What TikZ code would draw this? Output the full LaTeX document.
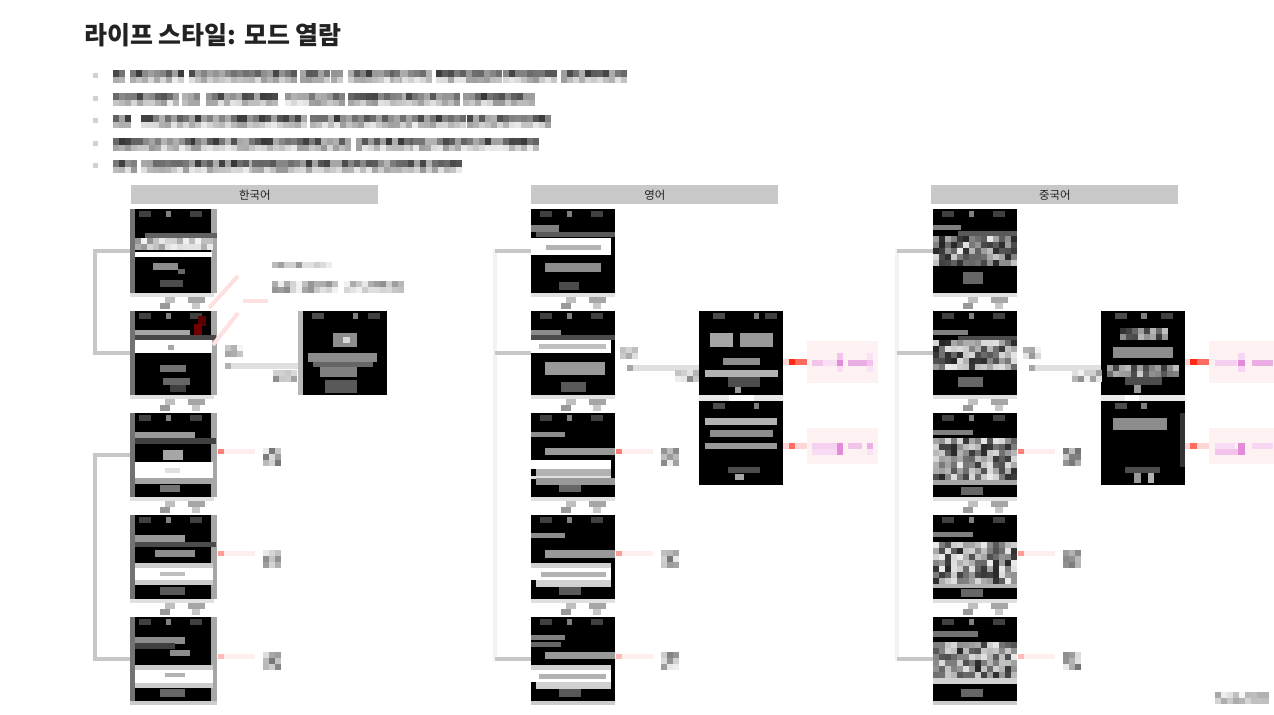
\documentclass[tikz,border=0pt]{standalone}
\usepackage{fontspec}
\newfontfamily\krfont{Noto Sans CJK KR}
\usetikzlibrary{calc}

\definecolor{tabgray}{HTML}{C8C8C8}
\definecolor{ink}{HTML}{222222}
\definecolor{pinkbg}{HTML}{FDF1F2}
\definecolor{mag}{HTML}{E38BD8}
\definecolor{lmag}{HTML}{F2C4EC}
\definecolor{hot}{HTML}{FF2A14}
\definecolor{warm}{HTML}{FF6A5E}
\definecolor{pale}{HTML}{FFD6D6}
\definecolor{blush}{HTML}{FFEEEE}

\newcommand{\bands}[2]{%
  \begin{scope}[shift={(#1.north west)}]
    \foreach \ya/\hh/\xa/\xb/\cl in {#2}{\fill[\cl] (\xa,\ya) rectangle (\xb,\ya+\hh);}
  \end{scope}}
\newcommand{\mottle}[7]{%
  \begin{scope}[shift={(#1)}]
    \foreach \ii in {1,...,#3}{\foreach \jj in {1,...,#5}{%
      \pgfmathrandominteger{\g}{#6}{#7}%
      \fill[black!\g] ({#4+6*(\jj-1)},{#2+6*(\ii-1)}) rectangle +(6,6);}}
  \end{scope}}

\begin{document}
\begin{tikzpicture}[x=0.02cm,y=-0.02cm,
  screen/.style={fill=black,inner sep=0pt,outer sep=0pt,anchor=north west,
    minimum width=#1*0.02cm,minimum height=84*0.02cm},
  screen/.default=84,
  tab/.style={fill=tabgray,inner sep=0pt,anchor=north west,text=ink,
    minimum width=247*0.02cm,minimum height=19*0.02cm,
    font=\krfont\fontsize{6.5}{7}\selectfont},
  note/.style={fill=pinkbg,inner sep=0pt,outer sep=0pt,anchor=north west,
    minimum width=71*0.02cm,minimum height=42*0.02cm},
  bracket/.style={draw=black!22,line width=4*0.02cm},
  ghost/.style={draw=black!5,line width=4*0.02cm},
  link/.style={draw=black!12,line width=6*0.02cm},
  redlink/.style={line width=6*0.02cm},
  pinkline/.style={draw=red!12,line width=4*0.02cm}]
\pgfmathsetseed{7}
\fill[white] (0,0) rectangle (1274,715);
\useasboundingbox (0,0) rectangle (1274,715);

\node[anchor=west,inner sep=0pt,text=ink,font=\krfont\bfseries\fontsize{14.2}{17}\selectfont]
  (title) at (84,35) {라이프 스타일: 모드 열람};

\foreach \y/\segs in {76/{113/120,130/183,189/295,300/325,331/340,348/390,394/400,402/429,436/498,503/555,561/626},
  99/{113/176,182/195,206/272,285/344,348/402,406/459,463/531},
  121/{113/130,141/229,231/237,241/306,310/402,406/463,467/545},
  144/{113/191,195/348,356/410,413/463,467/537},
  166/{113/134,141/249,252/344,348/460}}{
  \fill[black!18] (93,\y-3) rectangle (98,\y+2);
  \foreach \a/\b in \segs {
    \pgfmathtruncatemacro\n{(\b-\a)/6}
    \foreach \k in {0,...,\n}{
      \pgfmathrandominteger{\g}{30}{78}
      \fill[black!\g] ({\a+6*\k},\y-6) rectangle +(6,7);
      \pgfmathrandominteger{\g}{8}{40}
      \fill[black!\g] ({\a+6*\k},\y+1) rectangle +(6,6);}}
}

\node[tab] (tko) at (131,185) {한국어};
\node[tab] (ten) at (531,185) {영어};
\node[tab] (tzh) at (931,185) {중국어};

\foreach \i/\y in {1/209,2/311,3/413,4/515,5/617}{
  \node[screen=87] (ko\i) at (130,\y) {};
  \node[screen] (en\i) at (531,\y) {};
  \node[screen] (zh\i) at (933,\y) {};
}
\node[screen=89] (kod) at (298,311) {};
\node[screen] (end1) at (699,311) {};
\node[screen] (end2) at (699,401) {};
\node[screen] (zhd1) at (1101,311) {};
\node[screen] (zhd2) at (1101,401) {};

\foreach \s in {ko1,ko2,ko3,ko4,ko5,en1,en2,en3,en4,en5,zh1,zh2,zh3,zh4,zh5}{
  \bands{\s}{2/6/9/21/black!75,2/6/36/41/black!50,2/6/60/72/black!75,84/4/0/84/black!12}}
\foreach \s in {ko1,ko2,ko3,ko4,en1,en2,en3,en4,zh1,zh2,zh3,zh4}{
  \bands{\s}{88/6/35/45/black!25,88/6/58/75/black!35,94/6/30/40/black!40,94/6/62/70/black!22}}

\foreach \s in {ko1,ko2,ko3,ko4,ko5}{
  \bands{\s}{0/84/0/5/black!55,0/84/81/87/black!35}}
\bands{ko1}{24/5/15/87/black!62,43/5/5/82/white,54/7/23/48/black!45,60/5/48/55/black!60,71/7/30/53/black!70}
\mottle{ko1.north west}{29}{2}{5}{13}{3}{45}
\bands{ko2}{5/10/68/76/red!35!black,13/12/64/72/red!45!black,19/5/5/60/black!35,24/5/5/86/black!72,
  29/13/5/82/white,34/5/38/44/black!35,54/7/30/56/black!55,67/7/33/60/black!60,74/7/40/56/black!75}
\bands{ko3}{19/6/5/65/black!40,25/6/5/86/black!75,37/10/33/53/black!35,49/16/5/83/white,
  55/5/35/50/black!12,65/6/5/83/black!35,72/7/30/50/black!55}
\bands{ko4}{20/7/5/55/black!40,27/5/5/86/black!70,35/7/25/65/black!45,48/5/5/83/black!20,
  53/12/5/83/white,57/4/30/55/black!25,65/5/5/83/black!20,72/8/30/55/black!65}
\bands{ko5}{20/7/5/55/black!45,26/6/5/45/black!75,33/6/40/60/black!45,48/5/5/83/black!20,
  53/13/5/83/white,56/4/35/55/black!30,66/5/5/83/black!20,72/8/30/55/black!60,84/4/0/87/black!20}

\bands{en1}{16/7/0/28/black!50,23/5/5/84/black!65,29/17/0/80/white,36/5/15/70/black!30,
  54/9/14/70/black!45,73/8/28/48/black!70}
\bands{en2}{19/5/0/30/black!45,24/5/0/84/black!70,29/13/0/80/white,33/5/8/75/black!25,
  51/13/14/74/black!40,71/10/30/55/black!65}
\bands{en3}{19/5/0/34/black!45,35/7/14/84/black!40,47/9/0/80/white,56/7/5/80/black!30,
  63/3/0/80/black!12,65/7/5/84/black!40,72/7/28/50/black!60}
\bands{en4}{18/5/0/34/black!45,35/8/14/84/black!40,48/5/0/80/black!18,53/12/0/80/white,
  57/5/10/75/black!30,65/7/5/80/black!18,72/8/28/50/black!65}
\bands{en5}{18/5/0/34/black!50,25/5/0/30/black!60,35/7/14/84/black!40,48/5/0/80/black!18,
  53/12/0/80/white,57/5/8/75/black!30,65/7/5/80/black!18,72/8/28/50/black!65,84/4/0/84/black!20}

\bands{zh1}{16/5/0/28/black!50,22/5/25/84/black!65,63/12/30/50/black!60}
\mottle{zh1.north west}{27}{5}{0}{14}{8}{85}
\bands{zh2}{19/5/0/35/black!50,25/4/25/84/black!70,66/10/25/50/black!60}
\mottle{zh2.north west}{29}{5}{0}{14}{8}{85}
\bands{zh3}{17/5/0/40/black!50,67/5/0/84/black!35,74/8/28/50/black!60}
\mottle{zh3.north west}{25}{7}{0}{14}{8}{85}
\bands{zh4}{17/5/0/40/black!50,69/4/0/84/black!30,74/8/28/50/black!60}
\mottle{zh4.north west}{27}{7}{0}{14}{8}{85}
\bands{zh5}{14/6/0/45/black!55,61/6/0/84/black!18,72/8/28/50/black!60,84/4/0/84/black!20}
\mottle{zh5.north west}{25}{6}{0}{14}{8}{85}

\bands{kod}{0/84/0/5/black!28,2/6/14/26/black!70,2/6/55/60/black!50,2/6/70/82/black!75,
  22/14/35/59/black!45,26/6/45/52/black!15,42/9/10/79/black!45,51/5/15/75/black!60,
  56/10/22/59/black!50,69/13/27/59/black!65}
\bands{end1}{2/6/14/26/black!70,2/6/55/60/black!50,2/6/66/78/black!75,22/14/11/34/black!35,
  22/14/41/74/black!40,47/7/24/61/black!45,59/7/6/79/black!30,66/10/29/61/black!70,
  76/6/36/42/black!40,84/6/0/30/black!9,84/6/55/84/black!9}
\bands{end2}{2/6/14/26/black!70,2/6/55/60/black!50,17/7/6/78/black!30,29/7/11/74/black!45,
  42/6/6/78/black!40,66/6/29/61/black!70,73/6/36/45/black!35}
\bands{zhd1}{2/6/14/26/black!70,2/6/40/46/black!50,2/6/60/72/black!75,36/11/12/72/black!45,
  66/8/24/61/black!70,74/8/33/40/black!40,84/6/0/24/black!8,84/6/38/84/black!8}
\mottle{zhd1.north west}{17}{2}{19}{8}{15}{80}
\mottle{zhd1.north west}{54}{2}{6}{12}{20}{80}
\bands{zhd2}{2/6/14/26/black!70,2/6/40/46/black!50,17/12/12/66/black!45,12/54/79/84/black!80,
  66/6/24/59/black!70,72/10/33/40/black!40,72/10/47/53/black!30}

\draw[bracket] (ko1.west) -- ++(-35,0) |- (ko2.west);
\draw[bracket] (ko3.west) -- ++(-35,0) |- (ko5.west);
\foreach \s in {en,zh}{
  \draw[ghost] (\s1.west) -- ++(-36,0) |- (\s5.west);
  \draw[bracket] (\s1.west) -- ++(-36,0);
  \draw[bracket] (\s2.west) -- ++(-36,0);
  \draw[bracket] (\s5.west) -- ++(-36,0);
}

\draw[link] ([shift={(8,13)}]ko2.east) -- ([shift={(0,13)}]kod.west);
\draw[link] ([shift={(12,15)}]en2.east) -- ([shift={(0,15)}]end1.west);
\draw[link] ([shift={(12,15)}]zh2.east) -- ([shift={(0,15)}]zhd1.west);
\fill[black!30] (225,363) rectangle (231,369);
\fill[black!35] (627,365) rectangle (633,371);
\fill[black!35] (1029,365) rectangle (1035,371);
\mottle{0,0}{345}{2}{225}{3}{4}{40}
\mottle{0,0}{370}{2}{273}{4}{4}{45}
\mottle{0,0}{347}{2}{620}{3}{4}{40}
\mottle{0,0}{370}{2}{675}{4}{4}{45}
\mottle{0,0}{347}{2}{1023}{3}{4}{40}
\mottle{0,0}{370}{2}{1072}{5}{4}{45}

\draw[pinkline] (209,308) -- (238,276);
\draw[pinkline] (213,345) -- (238,313);
\draw[pinkline] (243,301) -- (268,301);
\mottle{0,0}{262}{1}{272}{10}{4}{45}
\mottle{0,0}{281}{2}{272}{11}{4}{45}
\mottle{0,0}{281}{2}{344}{10}{4}{45}

\foreach \s in {ko,en,zh}{
  \foreach \i/\cl in {3/warm!85,4/warm!65,5/warm!45}{
    \coordinate (lab\s\i) at ($(\s\i.east)+(46,-3)$);
    \draw[redlink,draw=blush,line width=5*0.02cm] ([shift={(1,-3)}]\s\i.east) -- ([shift={(-8,0)}]lab\s\i);
    \draw[redlink,draw=\cl,line width=5*0.02cm] ([shift={(1,-3)}]\s\i.east) -- ++(6,0);
    \mottle{lab\s\i}{-4}{3}{0}{3}{6}{55}
  }
}

\node[note] (enp1) at (807,341) {};
\node[note,minimum height=36*0.02cm] (enp2) at (807,428) {};
\node[note,minimum width=65*0.02cm] (zhp1) at (1209,341) {};
\node[note,minimum width=65*0.02cm,minimum height=36*0.02cm] (zhp2) at (1209,428) {};

\draw[redlink,draw=warm] ([shift={(0,9)}]end1.east) -- (enp1.west);
\draw[redlink,draw=pale] ([shift={(0,9)}]end1.east) -- ++(6,0);
\draw[redlink,draw=hot] ([shift={(6,9)}]end1.east) -- ++(6,0);
\draw[redlink,draw=pale] ([shift={(0,3)}]end2.east) -- (enp2.west);
\draw[redlink,draw=warm] ([shift={(6,3)}]end2.east) -- ++(6,0);
\draw[redlink,draw=warm] ([shift={(0,9)}]zhd1.east) -- (zhp1.west);
\draw[redlink,draw=pale] ([shift={(0,9)}]zhd1.east) -- ++(5,0);
\draw[redlink,draw=hot] ([shift={(5,9)}]zhd1.east) -- ++(7,0);
\draw[redlink,draw=pale] ([shift={(0,3)}]zhd2.east) -- (zhp2.west);
\draw[redlink,draw=warm] ([shift={(5,3)}]zhd2.east) -- ++(7,0);

\bands{enp1}{19/6/5/16/lmag,19/6/16/30/lmag!55,19/6/30/36/mag,19/6/41/60/mag!70,19/6/60/66/lmag,
  12/7/30/36/lmag,25/6/30/36/lmag!60,12/7/60/66/lmag!50,25/6/60/66/lmag!50}
\bands{enp2}{15/6/5/30/lmag!80,15/6/30/36/mag,15/6/41/55/lmag,15/6/60/66/mag!70,
  21/6/5/30/lmag!60,21/6/30/36/mag,21/6/60/66/lmag!50}
\bands{zhp1}{19/6/6/28/lmag!80,19/6/29/36/mag,19/6/43/64/mag!70,12/7/29/36/lmag!70,25/6/29/36/lmag!70}
\bands{zhp2}{15/6/6/26/lmag!60,15/6/29/36/mag,15/6/43/64/lmag!70,21/6/6/30/lmag,21/6/29/36/mag}

\mottle{0,0}{692}{2}{1215}{9}{2}{35}
\end{tikzpicture}
\end{document}
